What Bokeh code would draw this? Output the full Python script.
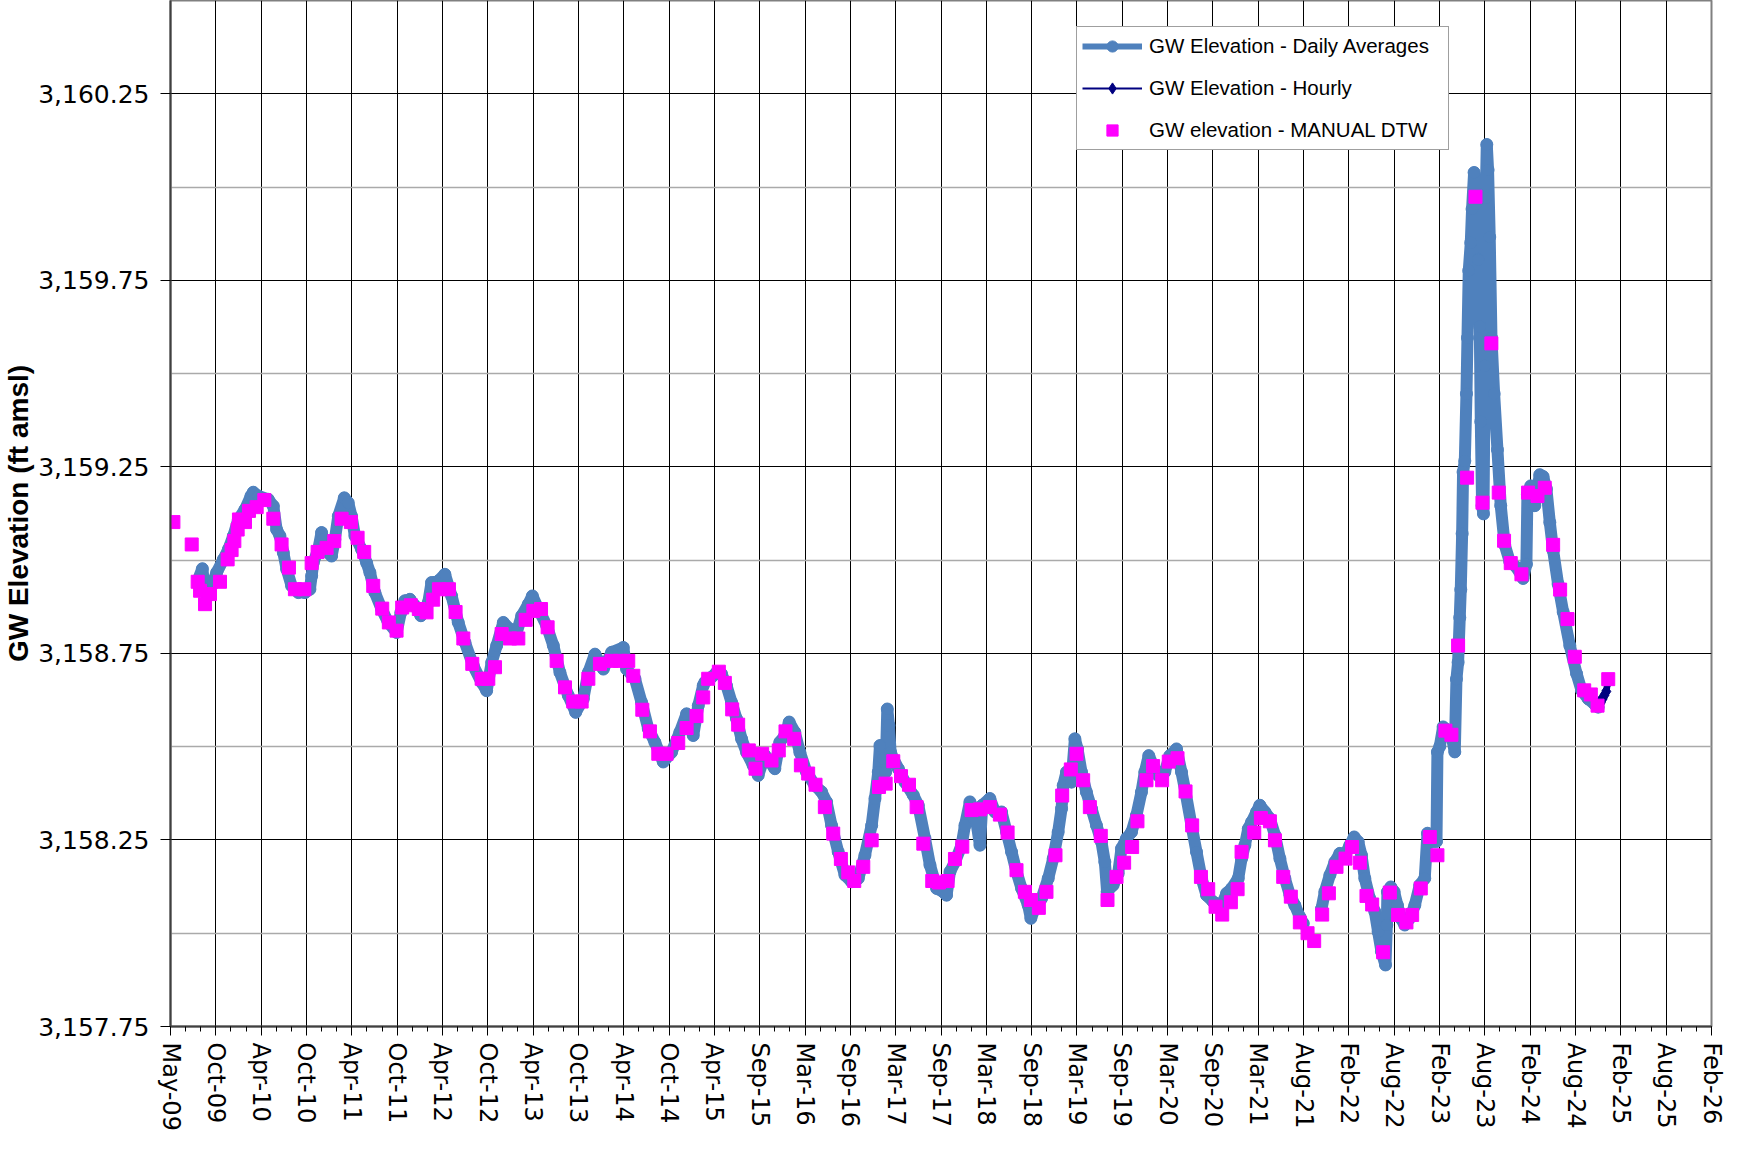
import math
from datetime import datetime, timedelta
from bokeh.plotting import figure
from bokeh.models import (ColumnDataSource, Range1d, FixedTicker, DatetimeTickFormatter,
                          NumeralTickFormatter, Legend, LegendItem)
from bokeh.embed import file_html
from bokeh.resources import INLINE

NAN = float("nan")

# ---------------- data (decimal year, ft amsl) ----------------
daily_year = [
    2009.637, 2009.681, 2009.710, 2009.746, 2009.782, 2009.837, 2009.909, 2009.964, 2010.018, 2010.072,
    2010.145, 2010.210, 2010.235, 2010.290, 2010.398, 2010.453, 2010.489, 2010.525, 2010.562, 2010.598,
    2010.652, 2010.725, 2010.797, 2010.851, 2010.870, 2010.888, 2010.942, 2010.978, 2010.996, 2011.051,
    2011.087, 2011.123, 2011.160, 2011.225, 2011.268, 2011.304, 2011.341, 2011.413, 2011.468, 2011.504,
    2011.558, 2011.631, 2011.703, 2011.794, 2011.841, 2011.884, 2011.939, 2011.993, 2012.058, 2012.102,
    2012.138, 2012.174, 2012.247, 2012.319, 2012.392, 2012.464, 2012.537, 2012.627, 2012.718, 2012.772,
    2012.827, 2012.881, 2012.953, 2013.026, 2013.098, 2013.153, 2013.225, 2013.269, 2013.334, 2013.425,
    2013.497, 2013.569, 2013.660, 2013.740, 2013.823, 2013.878, 2013.950, 2014.041, 2014.131, 2014.258,
    2014.294, 2014.385, 2014.457, 2014.530, 2014.602, 2014.693, 2014.783, 2014.874, 2014.947, 2015.019,
    2015.074, 2015.128, 2015.146, 2015.218, 2015.273, 2015.327, 2015.381, 2015.436, 2015.490, 2015.545,
    2015.599, 2015.671, 2015.726, 2015.798, 2015.853, 2015.907, 2015.961, 2016.016, 2016.063, 2016.124,
    2016.179, 2016.251, 2016.342, 2016.414, 2016.469, 2016.523, 2016.595, 2016.668, 2016.740, 2016.813,
    2016.885, 2016.958, 2016.994, 2017.030, 2017.048, 2017.085, 2017.110, 2017.128, 2017.146, 2017.164,
    2017.193, 2017.248, 2017.320, 2017.411, 2017.465, 2017.538, 2017.592, 2017.665, 2017.737, 2017.773,
    2017.810, 2017.864, 2017.936, 2017.973, 2018.027, 2018.081, 2018.136, 2018.161, 2018.244, 2018.299,
    2018.371, 2018.426, 2018.480, 2018.534, 2018.589, 2018.661, 2018.690, 2018.734, 2018.806, 2018.879,
    2018.933, 2018.987, 2019.024, 2019.042, 2019.078, 2019.132, 2019.169, 2019.198, 2019.241, 2019.295,
    2019.350, 2019.404, 2019.458, 2019.495, 2019.520, 2019.585, 2019.640, 2019.676, 2019.730, 2019.785,
    2019.839, 2019.893, 2019.930, 2019.973, 2020.020, 2020.075, 2020.147, 2020.201, 2020.274, 2020.328,
    2020.372, 2020.437, 2020.491, 2020.546, 2020.600, 2020.673, 2020.763, 2020.818, 2020.872, 2020.944,
    2020.980, 2021.016, 2021.053, 2021.089, 2021.143, 2021.179, 2021.234, 2021.288, 2021.343, 2021.397,
    2021.451, 2021.506, 2021.560, 2021.614, 2021.651, NAN, 2021.850, 2021.886, 2021.941, 2021.995,
    2022.049, 2022.104, 2022.158, 2022.205, 2022.249, 2022.285, 2022.321, 2022.375, 2022.430, 2022.466,
    2022.502, 2022.546, 2022.560, 2022.567, 2022.604, 2022.640, 2022.676, 2022.712, 2022.756, 2022.810,
    2022.865, 2022.919, 2022.973, 2023.003, 2023.028, 2023.064, 2023.101, 2023.111, 2023.137, 2023.173,
    2023.209, 2023.264, 2023.300, 2023.318, 2023.336, 2023.354, 2023.365, 2023.380, 2023.390, 2023.409,
    2023.427, 2023.438, 2023.452, 2023.474, 2023.488, 2023.510, 2023.535, 2023.554, 2023.572, 2023.583,
    2023.597, 2023.612, 2023.626, 2023.637, 2023.648, 2023.662, 2023.680, 2023.699, 2023.728, 2023.764,
    2023.800, 2023.843, 2023.898, 2023.970, 2024.043, 2024.079, 2024.090, 2024.126, 2024.170, 2024.224,
    2024.260, 2024.296, 2024.333, 2024.369, 2024.423, 2024.478, 2024.550, 2024.623, 2024.677, 2024.750,
    2024.822, 2024.858,
]
daily_elev = [
    3158.949, 3158.977, 3158.913, 3158.904, 3158.931, 3158.967, 3159.002, 3159.029, 3159.065, 3159.109,
    3159.136, 3159.172, 3159.182, 3159.172, 3159.163, 3159.145, 3159.082, 3159.065, 3159.020, 3158.976,
    3158.931, 3158.913, 3158.913, 3158.922, 3158.958, 3158.993, 3159.029, 3159.074, 3159.056, 3159.020,
    3159.011, 3159.056, 3159.118, 3159.167, 3159.154, 3159.118, 3159.065, 3159.029, 3158.993, 3158.967,
    3158.913, 3158.869, 3158.833, 3158.806, 3158.860, 3158.891, 3158.895, 3158.878, 3158.851, 3158.869,
    3158.886, 3158.940, 3158.944, 3158.962, 3158.904, 3158.833, 3158.779, 3158.717, 3158.672, 3158.650,
    3158.726, 3158.771, 3158.833, 3158.815, 3158.806, 3158.851, 3158.882, 3158.904, 3158.869, 3158.824,
    3158.771, 3158.699, 3158.637, 3158.592, 3158.628, 3158.699, 3158.748, 3158.708, 3158.753, 3158.766,
    3158.708, 3158.682, 3158.619, 3158.548, 3158.512, 3158.459, 3158.485, 3158.539, 3158.588, 3158.530,
    3158.610, 3158.664, 3158.673, 3158.686, 3158.699, 3158.695, 3158.664, 3158.619, 3158.575, 3158.521,
    3158.485, 3158.450, 3158.423, 3158.477, 3158.459, 3158.441, 3158.512, 3158.530, 3158.566, 3158.539,
    3158.485, 3158.432, 3158.396, 3158.379, 3158.352, 3158.289, 3158.218, 3158.156, 3158.138, 3158.147,
    3158.209, 3158.289, 3158.361, 3158.432, 3158.503, 3158.468, 3158.432, 3158.601, 3158.557, 3158.485,
    3158.468, 3158.441, 3158.405, 3158.370, 3158.343, 3158.254, 3158.183, 3158.120, 3158.111, 3158.102,
    3158.165, 3158.191, 3158.236, 3158.289, 3158.352, 3158.325, 3158.236, 3158.343, 3158.361, 3158.325,
    3158.325, 3158.271, 3158.218, 3158.165, 3158.120, 3158.075, 3158.040, 3158.067, 3158.093, 3158.147,
    3158.200, 3158.271, 3158.334, 3158.396, 3158.432, 3158.405, 3158.521, 3158.494, 3158.432, 3158.378,
    3158.334, 3158.289, 3158.245, 3158.191, 3158.111, 3158.129, 3158.160, 3158.227, 3158.254, 3158.271,
    3158.316, 3158.378, 3158.432, 3158.476, 3158.450, 3158.423, 3158.432, 3158.476, 3158.494, 3158.432,
    3158.378, 3158.289, 3158.218, 3158.147, 3158.102, 3158.084, 3158.075, 3158.107, 3158.120, 3158.147,
    3158.200, 3158.236, 3158.280, 3158.298, 3158.325, 3158.343, 3158.325, 3158.307, 3158.263, 3158.200,
    3158.147, 3158.102, 3158.075, 3158.044, 3158.026, NAN, 3158.066, 3158.111, 3158.156, 3158.191,
    3158.214, 3158.209, 3158.236, 3158.258, 3158.245, 3158.209, 3158.147, 3158.093, 3158.058, 3158.004,
    3157.951, 3157.915, 3158.022, 3158.111, 3158.124, 3158.111, 3158.075, 3158.040, 3158.022, 3158.040,
    3158.075, 3158.129, 3158.147, 3158.268, 3158.261, 3158.246, 3158.246, 3158.486, 3158.501, 3158.553,
    3158.546, 3158.531, 3158.486, 3158.681, 3158.726, 3158.846, 3158.921, 3159.071, 3159.236, 3159.266,
    3159.446, 3159.596, 3159.776, 3159.851, 3159.941, 3160.039, 3159.956, 3159.806, 3159.626, 3159.371,
    3159.146, 3159.124, 3159.521, 3159.971, 3160.114, 3160.046, 3159.866, 3159.596, 3159.446, 3159.296,
    3159.146, 3159.041, 3158.996, 3158.981, 3158.951, 3158.989, 3159.176, 3159.199, 3159.146, 3159.229,
    3159.224, 3159.191, 3159.101, 3159.026, 3158.936, 3158.861, 3158.771, 3158.696, 3158.651, 3158.628,
    3158.613, 3158.606,
]

hourly_year = [2024.862, 2024.872, 2024.882, 2024.892, 2024.902, 2024.912,
               2024.922, 2024.932, 2024.942, 2024.952, 2024.962, 2024.970]
hourly_elev = [3158.612, 3158.625, 3158.608, 3158.630, 3158.618, 3158.640,
               3158.628, 3158.650, 3158.638, 3158.660, 3158.648, 3158.668]

manual_year = [
    2009.366, 2009.565, 2009.630, 2009.656, 2009.710, 2009.764, 2009.873, 2009.956, 2009.999, 2010.029,
    2010.065, 2010.079, 2010.145, 2010.188, 2010.272, 2010.355, 2010.453, 2010.543, 2010.623, 2010.688,
    2010.790, 2010.870, 2010.935, 2011.033, 2011.116, 2011.196, 2011.297, 2011.370, 2011.442, 2011.540,
    2011.638, 2011.710, 2011.794, 2011.855, 2011.949, 2012.036, 2012.120, 2012.192, 2012.254, 2012.363,
    2012.435, 2012.519, 2012.616, 2012.718, 2012.790, 2012.863, 2012.935, 2013.026, 2013.116, 2013.196,
    2013.280, 2013.363, 2013.435, 2013.533, 2013.624, 2013.714, 2013.805, 2013.878, 2014.004, 2014.131,
    2014.222, 2014.312, 2014.367, 2014.465, 2014.548, 2014.639, 2014.729, 2014.856, 2014.947, 2015.055,
    2015.128, 2015.182, 2015.298, 2015.363, 2015.443, 2015.508, 2015.624, 2015.697, 2015.769, 2015.871,
    2015.950, 2016.023, 2016.117, 2016.190, 2016.269, 2016.349, 2016.450, 2016.541, 2016.624, 2016.704,
    2016.769, 2016.867, 2016.958, 2017.038, 2017.110, 2017.193, 2017.277, 2017.364, 2017.447, 2017.520,
    2017.617, 2017.690, 2017.784, 2017.864, 2017.944, 2018.045, 2018.136, 2018.244, 2018.353, 2018.437,
    2018.534, 2018.625, 2018.690, 2018.777, 2018.860, 2018.958, 2019.031, 2019.125, 2019.187, 2019.259,
    2019.332, 2019.451, 2019.524, 2019.622, 2019.705, 2019.792, 2019.850, 2019.948, 2020.020, 2020.118,
    2020.190, 2020.285, 2020.372, 2020.444, 2020.539, 2020.618, 2020.698, 2020.770, 2020.864, 2020.937,
    2020.980, 2021.118, 2021.190, 2021.288, 2021.343, 2021.433, 2021.516, 2021.614, 2021.698, 2021.770,
    2021.857, 2021.930, 2022.013, 2022.111, 2022.183, 2022.267, 2022.339, 2022.401, 2022.520, 2022.593,
    2022.683, 2022.774, 2022.836, 2022.930, 2023.028, 2023.111, 2023.198, 2023.263, 2023.336, 2023.434,
    2023.525, 2023.601, 2023.698, 2023.778, 2023.836, 2023.909, 2024.025, 2024.097, 2024.199, 2024.278,
    2024.369, 2024.445, 2024.525, 2024.604, 2024.706, 2024.778, 2024.851, 2024.967,
]
manual_elev = [
    3159.102, 3159.042, 3158.942, 3158.918, 3158.882, 3158.909, 3158.942, 3159.002, 3159.027, 3159.051,
    3159.082, 3159.109, 3159.102, 3159.132, 3159.142, 3159.161, 3159.111, 3159.042, 3158.980, 3158.922,
    3158.922, 3158.992, 3159.022, 3159.033, 3159.051, 3159.111, 3159.102, 3159.060, 3159.022, 3158.931,
    3158.870, 3158.833, 3158.811, 3158.873, 3158.879, 3158.869, 3158.860, 3158.894, 3158.922, 3158.922,
    3158.861, 3158.790, 3158.722, 3158.682, 3158.682, 3158.713, 3158.802, 3158.790, 3158.790, 3158.840,
    3158.864, 3158.869, 3158.820, 3158.730, 3158.659, 3158.621, 3158.621, 3158.682, 3158.722, 3158.730,
    3158.730, 3158.730, 3158.690, 3158.599, 3158.541, 3158.481, 3158.481, 3158.510, 3158.550, 3158.582,
    3158.632, 3158.682, 3158.701, 3158.671, 3158.600, 3158.559, 3158.490, 3158.441, 3158.481, 3158.463,
    3158.490, 3158.541, 3158.521, 3158.450, 3158.428, 3158.398, 3158.338, 3158.267, 3158.199, 3158.163,
    3158.140, 3158.178, 3158.249, 3158.392, 3158.401, 3158.461, 3158.421, 3158.398, 3158.338, 3158.240,
    3158.140, 3158.136, 3158.140, 3158.199, 3158.232, 3158.330, 3158.332, 3158.338, 3158.318, 3158.270,
    3158.169, 3158.111, 3158.089, 3158.068, 3158.111, 3158.209, 3158.369, 3158.439, 3158.481, 3158.410,
    3158.338, 3158.261, 3158.089, 3158.151, 3158.189, 3158.231, 3158.300, 3158.410, 3158.448, 3158.410,
    3158.460, 3158.469, 3158.380, 3158.289, 3158.151, 3158.118, 3158.071, 3158.050, 3158.083, 3158.118,
    3158.218, 3158.270, 3158.309, 3158.300, 3158.249, 3158.151, 3158.098, 3158.029, 3158.000, 3157.979,
    3158.050, 3158.107, 3158.178, 3158.200, 3158.231, 3158.189, 3158.100, 3158.077, 3157.949, 3158.109,
    3158.049, 3158.029, 3158.049, 3158.120, 3158.258, 3158.209, 3158.543, 3158.532, 3158.771, 3159.221,
    3159.974, 3159.154, 3159.581, 3159.181, 3159.052, 3158.992, 3158.962, 3159.181, 3159.172, 3159.194,
    3159.041, 3158.921, 3158.842, 3158.741, 3158.651, 3158.640, 3158.610, 3158.681,
]

x_axis_start = "2009-05-03"
x_tick_count = 35          # May-09 ... Feb-26
x_major_step_days = 180
x_minor_step_days = 60
y_major_ticks = [3157.75, 3158.25, 3158.75, 3159.25, 3159.75, 3160.25]
y_minor_ticks = [3158.0, 3158.5, 3159.0, 3159.5, 3160.0]
y_min, y_max = 3157.75, 3160.5

# ---------------- helpers ----------------
EPOCH = datetime(1970, 1, 1)


def to_ms(d):
    return (d - EPOCH).total_seconds() * 1000.0


def dec_to_ms(y):
    if y != y:
        return NAN
    yr = int(y)
    a = datetime(yr, 1, 1)
    b = datetime(yr + 1, 1, 1)
    return to_ms(a + (b - a) * (y - yr))


x0 = datetime.strptime(x_axis_start, "%Y-%m-%d")
major_ticks = [to_ms(x0 + timedelta(days=x_major_step_days * i)) for i in range(x_tick_count)]
n_minor = (x_tick_count - 1) * x_major_step_days // x_minor_step_days + 1
minor_ticks = [to_ms(x0 + timedelta(days=x_minor_step_days * i)) for i in range(n_minor)]

daily_src = ColumnDataSource(dict(x=[dec_to_ms(v) for v in daily_year], y=daily_elev))
hourly_src = ColumnDataSource(dict(x=[dec_to_ms(v) for v in hourly_year], y=hourly_elev))
manual_src = ColumnDataSource(dict(x=[dec_to_ms(v) for v in manual_year], y=manual_elev))

FONT = "Liberation Sans"
TICK_FONT = "DejaVu Sans"
BLUE = "#4F81BD"
NAVY = "#000080"
MAGENTA = "#FF00FF"

p = figure(width=1728, height=1133, x_axis_type="datetime",
           x_range=Range1d(major_ticks[0], major_ticks[-1]),
           y_range=Range1d(y_min, y_max),
           output_backend="svg", toolbar_location=None,
           min_border_left=170, min_border_right=17, min_border_top=0, min_border_bottom=105)

p.background_fill_color = "white"
p.border_fill_color = "white"
p.outline_line_color = "#808080"
p.outline_line_width = 2

# axes
p.xaxis.ticker = FixedTicker(ticks=major_ticks, minor_ticks=minor_ticks)
fmt = "%b-%y"
p.xaxis.formatter = DatetimeTickFormatter(
    microseconds=fmt, milliseconds=fmt, seconds=fmt, minsec=fmt, minutes=fmt,
    hourmin=fmt, hours=fmt, days=fmt, months=fmt, years=fmt, strip_leading_zeros=False)
p.xaxis.axis_label = None
p.xaxis.major_label_orientation = -math.pi / 2
p.xaxis.major_label_text_font = TICK_FONT
p.xaxis.major_label_text_font_size = "24px"
p.xaxis.major_label_text_color = "black"
p.xaxis.major_label_standoff = 7
p.xaxis.axis_line_color = "#404040"
p.xaxis.axis_line_width = 2
p.xaxis.major_tick_line_color = "black"
p.xaxis.major_tick_out = 9
p.xaxis.major_tick_in = 0
p.xaxis.minor_tick_line_color = "black"
p.xaxis.minor_tick_out = 5
p.xaxis.minor_tick_in = 0

p.yaxis.ticker = FixedTicker(ticks=y_major_ticks, minor_ticks=y_minor_ticks)
p.yaxis.formatter = NumeralTickFormatter(format="0,0.00")
p.yaxis.major_label_text_font = TICK_FONT
p.yaxis.major_label_text_font_size = "25px"
p.yaxis.major_label_text_color = "black"
p.yaxis.major_label_standoff = 11
p.yaxis.axis_line_color = "#404040"
p.yaxis.axis_line_width = 2
p.yaxis.major_tick_line_color = "black"
p.yaxis.major_tick_out = 10
p.yaxis.major_tick_in = 0
p.yaxis.minor_tick_line_color = None
p.yaxis.axis_label = "GW Elevation (ft amsl)"
p.yaxis.axis_label_text_font = FONT
p.yaxis.axis_label_text_font_style = "bold"
p.yaxis.axis_label_text_font_size = "28px"
p.yaxis.axis_label_text_color = "black"
p.yaxis.axis_label_standoff = 1

# grids
p.xgrid.grid_line_color = "black"
p.xgrid.grid_line_width = 1
p.ygrid.grid_line_color = "black"
p.ygrid.grid_line_width = 1
p.ygrid.minor_grid_line_color = "#aaaaaa"
p.ygrid.minor_grid_line_width = 1.5

# series
p.line("x", "y", source=daily_src, line_color=BLUE, line_width=12,
       line_join="round", line_cap="round")
p.scatter("x", "y", source=daily_src, marker="circle", size=12, fill_color=BLUE, line_color=BLUE)
p.line("x", "y", source=hourly_src, line_color=NAVY, line_width=4)
p.scatter("x", "y", source=hourly_src, marker="diamond", size=9, fill_color=NAVY, line_color=NAVY)
p.scatter("x", "y", source=manual_src, marker="square", size=13, fill_color=MAGENTA,
          line_color=MAGENTA)

# legend (dummy renderers carry the legend styling)
dummy = ColumnDataSource(dict(x=[NAN], y=[NAN]))
lg_d1 = p.line("x", "y", source=dummy, line_color=BLUE, line_width=6)
lg_d2 = p.scatter("x", "y", source=dummy, marker="circle", fill_color=BLUE, line_color=BLUE)
lg_h1 = p.line("x", "y", source=dummy, line_color=NAVY, line_width=2)
lg_h2 = p.scatter("x", "y", source=dummy, marker="diamond", fill_color=NAVY, line_color=NAVY)
lg_m = p.scatter("x", "y", source=dummy, marker="square", fill_color=MAGENTA, line_color=MAGENTA)

legend = Legend(items=[
    LegendItem(label="GW Elevation - Daily Averages", renderers=[lg_d1, lg_d2]),
    LegendItem(label="GW Elevation - Hourly", renderers=[lg_h1, lg_h2]),
    LegendItem(label="GW elevation - MANUAL DTW", renderers=[lg_m]),
], location=(906, 876))
legend.label_text_font = FONT
legend.label_text_font_size = "20.5px"
legend.label_text_color = "black"
legend.glyph_width = 60
legend.glyph_height = 28
legend.label_height = 28
legend.label_width = 294
legend.spacing = 14
legend.padding = 5
legend.margin = 0
legend.label_standoff = 7
legend.border_line_color = "#404040"
legend.border_line_width = 1
legend.background_fill_color = "white"
legend.background_fill_alpha = 1.0
p.add_layout(legend)

open("out.html", "w").write(file_html(p, INLINE))
